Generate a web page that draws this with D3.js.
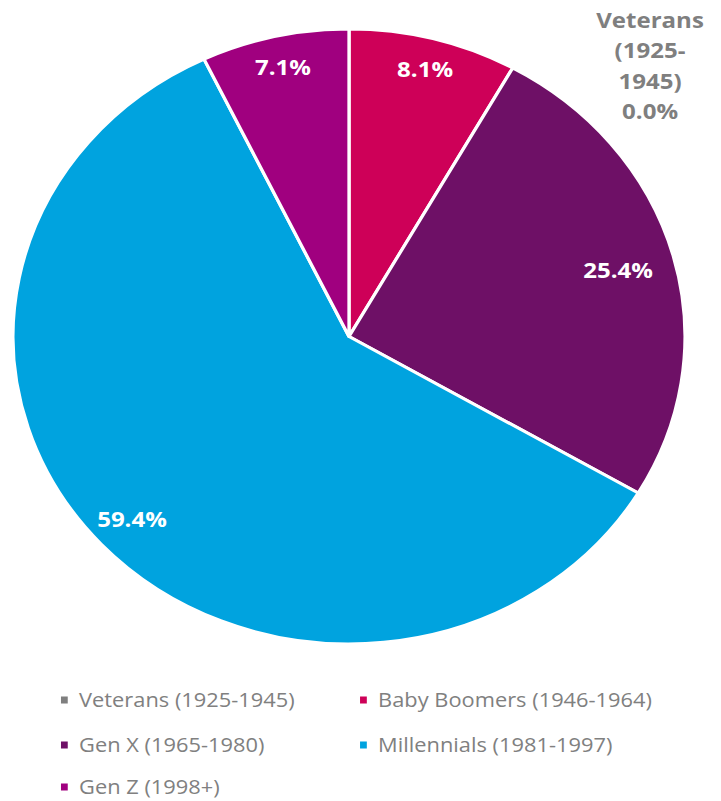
<!DOCTYPE html>
<html>
<head>
<meta charset="utf-8">
<script src="https://cdn.jsdelivr.net/npm/d3@7"></script>
<style>
  html, body { margin: 0; padding: 0; background: #fff; }
  svg { display: block; }
</style>
</head>
<body>
<script>
const categories = ["Veterans (1925-1945)", "Baby Boomers (1946-1964)", "Gen X (1965-1980)", "Millennials (1981-1997)", "Gen Z (1998+)"];
const values = [0.0, 8.1, 25.4, 59.4, 7.1];
const colors = ["#7F7F7F", "#CE0058", "#6E1066", "#00A3DF", "#A0007F"];

const W = 721, H = 801;
const sx = 1.0927;          // horizontal stretch of the whole picture
const cx = 319.4, cy = 336.5, R = 307.5;

const svg = d3.select("body").append("svg").attr("width", W).attr("height", H);
const g = svg.append("g").attr("transform", `scale(${sx},1)`);

const pie = d3.pie().sort(null).value(d => d.v);
const data = categories.map((c, i) => ({ c, v: values[i], col: colors[i] }));
const arcs = pie(data);
const arc = d3.arc().innerRadius(0).outerRadius(R);

const pg = g.append("g").attr("transform", `translate(${cx},${cy})`);
pg.selectAll("path").data(arcs).enter().append("path")
  .attr("d", arc)
  .attr("fill", d => d.data.col)
  .attr("stroke", "#fff")
  .attr("stroke-width", 3)
  .attr("stroke-linejoin", "round");

const fmt = v => v.toFixed(1) + "%";
// data label positions (pie-local, unstretched)
const labelPos = [null, [389 - cx, 77 - cy], [565.6 - cx, 278 - cy], [120.8 - cx, 527 - cy], [259 - cx, 75 - cy]];

pg.selectAll("text.lbl").data(arcs.filter((d, i) => i > 0)).enter().append("text")
  .attr("class", "lbl")
  .attr("x", d => labelPos[d.index][0])
  .attr("y", d => labelPos[d.index][1])
  .attr("text-anchor", "middle")
  .attr("font-family", "'Open Sans', sans-serif")
  .attr("font-weight", "bold")
  .attr("font-size", 22)
  .attr("fill", "#fff")
  .text(d => fmt(d.data.v));

// Veterans outside label
const vetLines = ["Veterans", "(1925-", "1945)", fmt(values[0])];
const vt = g.append("text")
  .attr("text-anchor", "middle")
  .attr("font-family", "'Open Sans', sans-serif")
  .attr("font-weight", "bold")
  .attr("font-size", 22)
  .attr("fill", "#7F7F7F");
vetLines.forEach((t, i) => {
  vt.append("tspan").attr("x", 594.9).attr("y", 28 + i * 30.4).text(t);
});

// Legend
const legPos = [[0, 0], [1, 0], [0, 1], [1, 1], [0, 2]];
const colX = [55.8, 329.5];
const rowY = [700, 745, 787];
const lg = g.append("g");
data.forEach((d, i) => {
  const [c, r] = legPos[i];
  lg.append("rect")
    .attr("x", colX[c]).attr("y", rowY[r] - 3.5)
    .attr("width", 6.2).attr("height", 7)
    .attr("fill", d.col);
  lg.append("text")
    .attr("x", colX[c] + 16.5).attr("y", rowY[r])
    .attr("dy", "0.35em")
    .attr("font-family", "'Open Sans', sans-serif")
    .attr("font-size", 20)
    .attr("fill", "#808080")
    .text(d.c);
});
</script>
</body>
</html>
